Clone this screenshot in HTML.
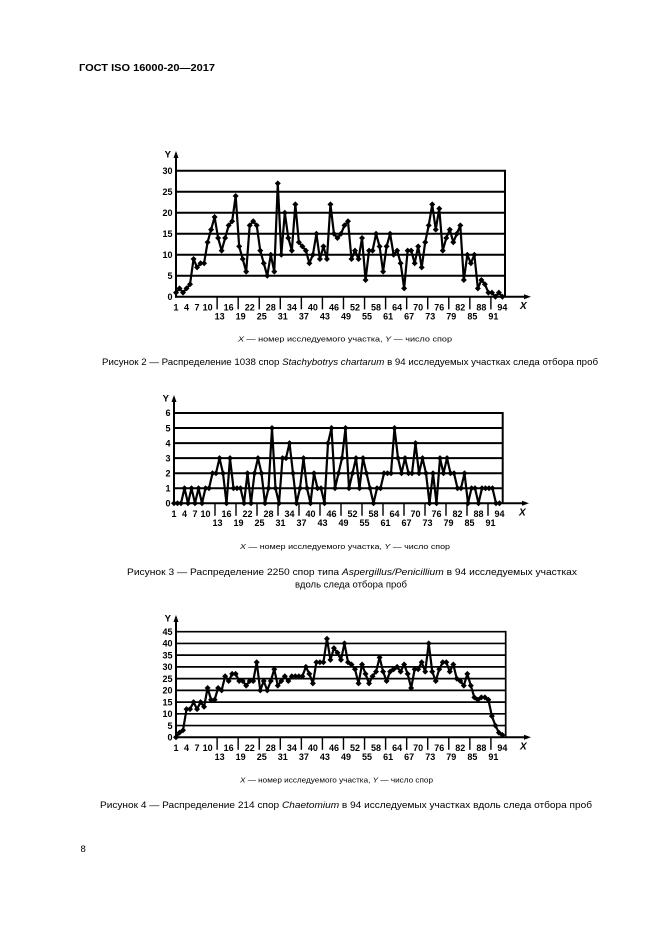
<!DOCTYPE html>
<html><head><meta charset="utf-8">
<style>
html,body{margin:0;padding:0;background:#fff;}
svg{display:block;}
text{font-family:"Liberation Sans",Arial,sans-serif;fill:#000;}
</style></head>
<body>
<svg id="s" width="661" height="935" viewBox="0 0 661 935" xmlns="http://www.w3.org/2000/svg">
<rect width="661" height="935" fill="#fff"/>
<text x="79" y="71" font-size="10.5" font-weight="bold" textLength="136" lengthAdjust="spacingAndGlyphs">ГОСТ ISO 16000-20—2017</text>

<text x="238" y="341.5" font-size="7.5" textLength="214" lengthAdjust="spacingAndGlyphs"><tspan font-style="italic">X</tspan> — номер исследуемого участка, <tspan font-style="italic">Y</tspan> — число спор</text>
<text x="102" y="365" font-size="9.5" textLength="496" lengthAdjust="spacingAndGlyphs">Рисунок 2 — Распределение 1038 спор <tspan font-style="italic">Stachybotrys chartarum</tspan> в 94 исследуемых участках следа отбора проб</text>

<text x="240" y="549" font-size="7.5" textLength="210" lengthAdjust="spacingAndGlyphs"><tspan font-style="italic">X</tspan> — номер исследуемого участка, <tspan font-style="italic">Y</tspan> — число спор</text>
<text x="127" y="575" font-size="9.5" textLength="450" lengthAdjust="spacingAndGlyphs">Рисунок 3 — Распределение 2250 спор типа <tspan font-style="italic">Aspergillus/Penicillium</tspan> в 94 исследуемых участках</text>
<text x="351" y="587.5" font-size="9.5" text-anchor="middle">вдоль следа отбора проб</text>

<text x="240" y="782.5" font-size="7" textLength="193" lengthAdjust="spacingAndGlyphs"><tspan font-style="italic">X</tspan> — номер исследуемого участка, <tspan font-style="italic">Y</tspan> — число спор</text>
<text x="100" y="808" font-size="9.5" textLength="492" lengthAdjust="spacingAndGlyphs">Рисунок 4 — Распределение 214 спор <tspan font-style="italic">Chaetomium</tspan> в 94 исследуемых участках вдоль следа отбора проб</text>

<text x="80.5" y="852" font-size="9.5">8</text>
<g id="charts"></g>
</svg>
<script>
(function(){
var c1=[1,2,1,2,3,9,7,8,8,13,16,19,14,11,14,17,18,24,12,9,6,17,18,17,11,8,5,10,6,27,10,20,14,11,22,13,12,11,8,10,15,9,12,9,22,15,14,15,17,18,9,11,9,14,4,11,11,15,12,6,12,15,10,11,8,2,11,11,8,12,7,13,17,22,16,21,11,14,16,13,15,17,4,10,8,10,2,4,3,1,1,0,1,0];
var c2=[0,0,0,1,0,1,0,1,0,1,1,2,2,3,2,0,3,1,1,1,0,2,0,2,3,2,0,1,5,1,0,3,3,4,2,0,1,3,1,0,2,1,1,0,4,5,1,2,3,5,1,2,3,1,3,2,1,0,1,1,2,2,2,5,3,2,3,2,2,4,2,3,2,0,2,0,3,2,3,2,2,1,1,2,0,1,1,0,1,1,1,1,0,0];
var c3=[0,2,3,12,12,15,12,15,13,21,16,16,21,20,26,24,27,27,24,24,22,24,24,32,20,24,20,24,29,22,24,26,24,26,26,26,26,30,27,23,32,32,32,42,33,38,36,33,40,32,31,29,23,31,27,23,26,28,34,28,24,28,29,30,28,31,27,21,29,29,32,28,40,28,24,29,32,32,28,31,25,24,22,27,22,17,16,17,17,16,9,5,2,1];
var charts=[
 {x0:176,y0:296.8,ux:3.51,uy:4.2,ymax:30,ys:5,right:505,yTip:151,xTip:531,gw:2,d:c1,xl:520},
 {x0:174,y0:503.3,ux:3.5,uy:15.05,ymax:6,ys:1,right:502.7,yTip:395,xTip:529,gw:2,d:c2,xl:519},
 {x0:176,y0:737.3,ux:3.51,uy:2.347,ymax:45,ys:5,right:505.7,yTip:615,xTip:531,gw:1.7,d:c3,xl:520}
];
var top=[1,4,7,10,16,22,28,34,40,46,52,58,64,70,76,82,88,94];
var bot=[13,19,25,31,37,43,49,55,61,67,73,79,85,91];
var out='';
charts.forEach(function(c){
 function X(i){return c.x0+(i-1)*c.ux;}
 function Y(v){return c.y0-v*c.uy;}
 var g='';
 var t=Y(c.ymax);
 for(var v=c.ys; v<=c.ymax+0.001; v+=c.ys){
   g+='<line x1="'+c.x0+'" y1="'+Y(v)+'" x2="'+c.right+'" y2="'+Y(v)+'" stroke="#000" stroke-width="'+c.gw+'"/>';
 }
 g+='<line x1="'+c.right+'" y1="'+(t-c.gw/2)+'" x2="'+c.right+'" y2="'+c.y0+'" stroke="#000" stroke-width="'+c.gw+'"/>';
 g+='<line x1="'+c.x0+'" y1="'+(c.y0+1)+'" x2="'+c.x0+'" y2="'+(c.yTip+4)+'" stroke="#000" stroke-width="2"/>';
 g+='<polygon points="'+c.x0+','+c.yTip+' '+(c.x0-2.5)+','+(c.yTip+7)+' '+(c.x0+2.5)+','+(c.yTip+7)+'" fill="#000"/>';
 g+='<line x1="'+(c.x0-1)+'" y1="'+c.y0+'" x2="'+(c.xTip-4)+'" y2="'+c.y0+'" stroke="#000" stroke-width="2"/>';
 g+='<polygon points="'+c.xTip+','+c.y0+' '+(c.xTip-7)+','+(c.y0-2.5)+' '+(c.xTip-7)+','+(c.y0+2.5)+'" fill="#000"/>';
 g+='<text x="'+(c.x0-5)+'" y="'+(c.yTip+6.5)+'" font-size="9.5" font-weight="bold" text-anchor="end">Y</text>';
 g+='<text x="'+c.xl+'" y="'+(c.y0+12)+'" font-size="10" font-weight="bold" font-style="italic">X</text>';
 for(var v2=0; v2<=c.ymax+0.001; v2+=c.ys){
   g+='<text x="'+(c.x0-3.5)+'" y="'+(Y(v2)+3.2)+'" font-size="9" font-weight="bold" text-anchor="end">'+v2+'</text>';
 }
 top.forEach(function(i){
   g+='<text x="'+X(i)+'" y="'+(c.y0+13.5)+'" font-size="9" font-weight="bold" text-anchor="middle">'+i+'</text>';
 });
 bot.forEach(function(i){
   g+='<line x1="'+(X(i)-1)+'" y1="'+c.y0+'" x2="'+(X(i)-1)+'" y2="'+(c.y0+12.5)+'" stroke="#000" stroke-width="1.4"/>';
   g+='<text x="'+(X(i)+1.5)+'" y="'+(c.y0+22.8)+'" font-size="9" font-weight="bold" text-anchor="middle">'+i+'</text>';
 });
 var pts=[];
 c.d.forEach(function(v,k){pts.push(X(k+1).toFixed(2)+','+Y(v).toFixed(2));});
 g+='<polyline points="'+pts.join(' ')+'" fill="none" stroke="#000" stroke-width="2.2" stroke-linejoin="round"/>';
 var s=3.0;
 c.d.forEach(function(v,k){
   var x=X(k+1), y=Y(v);
   g+='<polygon points="'+x+','+(y-s)+' '+(x+s)+','+y+' '+x+','+(y+s)+' '+(x-s)+','+y+'" fill="#000"/>';
 });
 out+=g;
});
document.getElementById('charts').innerHTML=out;
})();
</script>
</body></html>
